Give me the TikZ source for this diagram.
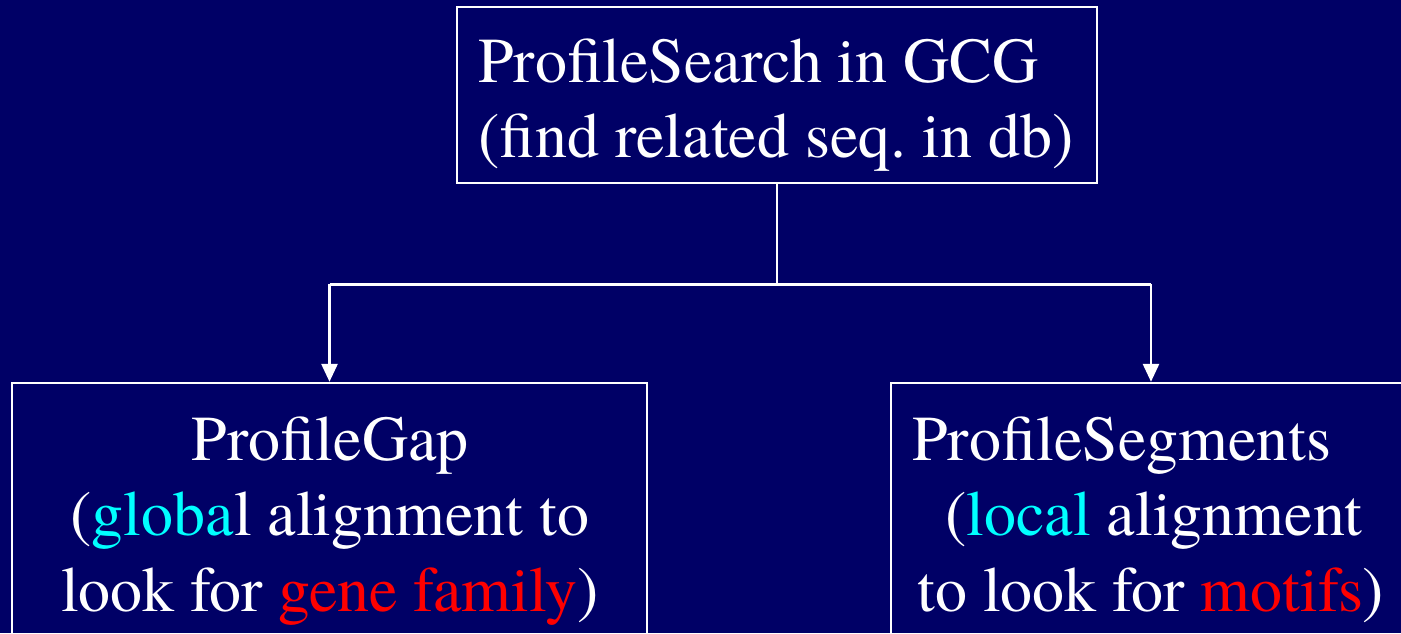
\documentclass[tikz,border=0pt]{standalone}
\usepackage{fontspec}
\newfontfamily\slidefont{TeX Gyre Termes}
\usetikzlibrary{arrows.meta}
\definecolor{slidebg}{RGB}{0,0,102}
\definecolor{hicyan}{RGB}{0,255,255}
\definecolor{hired}{RGB}{255,0,0}
\begin{document}
\begin{tikzpicture}[x = 0.02cm, y = -0.02cm,
  box/.style = {draw = white, line width = 1.4pt, inner sep = 0pt},
  txt/.style = {text = white, inner sep = 0pt, font = \slidefont\fontsize{36.4}{43.2}\selectfont},
  link/.style = {white, line width = 1.6pt}]
\useasboundingbox (0,0) rectangle (1401,633);
\fill [slidebg] (0,0) rectangle (1401,633);
\clip (0,0) rectangle (1401,633);
% boxes
\node [box, minimum width = 12.8cm, minimum height = 3.52cm] (search) at (777,95) {};
\node [box, minimum width = 12.7cm, minimum height = 6cm] (gap) at (329.5,533) {};
\node [box, minimum width = 10.4cm, minimum height = 6cm] (seg) at (1151,533) {};
% texts
\node [txt, anchor = north west, align = left] (searchtxt) at (478,38)
  {ProfileSearch in GCG\\(find related seq.\ in db)};
\node [txt, anchor = north, align = center] (gaptxt) at (330,416)
  {ProfileGap\\(\textcolor{hicyan}{globa}l alignment to\\look for \textcolor{hired}{gene family})};
\node [txt, anchor = north west, align = left] (segtxt) at (912,416)
  {ProfileSegments\\\hspace*{0.66cm}(\textcolor{hicyan}{local} alignment\\\hspace*{0.1cm}to look for \textcolor{hired}{motifs})};
% connectors
\draw [link] (search.south) -- ++(0,100) coordinate (fork);
\draw [link] (fork -| gap.north) -- (fork -| seg.north);
\draw [link, -{Triangle[length = 0.36cm, width = 0.32cm]}] (fork -| gap.north) -- (gap.north);
\draw [link, -{Triangle[length = 0.36cm, width = 0.32cm]}] (fork -| seg.north) -- (seg.north);
\end{tikzpicture}
\end{document}
